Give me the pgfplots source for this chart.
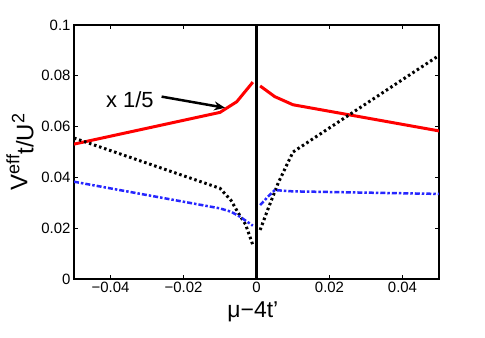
\documentclass[border=0pt]{standalone}
\usepackage{fontspec}
\setmainfont{Liberation Sans}
\usepackage{pgfplots}
\pgfplotsset{compat=1.18}
\usetikzlibrary{arrows.meta}

\begin{document}
\begin{tikzpicture}
\path[use as bounding box] (0,0) rectangle (485bp,338bp);
\begin{axis}[
  at={(74bp,59bp)}, anchor=south west,
  scale only axis, width=365bp, height=254bp,
  xmin=-0.05, xmax=0.05, ymin=0, ymax=0.1,
  xtick={-0.04,-0.02,0,0.02,0.04},
  xticklabels={−0.04,−0.02,0,0.02,0.04},
  ytick={0,0.02,0.04,0.06,0.08,0.1},
  yticklabels={0,0.02,0.04,0.06,0.08,0.1},
  scaled ticks=false,
  tick align=inside, major tick length=4bp,
  ticklabel style={font=\fontsize{15}{17}\selectfont},
  axis line style={line width=1.5bp},
  every tick/.style={black, line width=1bp},
  xlabel={μ−4t’},
  xlabel style={at={(rel axis cs:0.49,-0.15)}, anchor=base, font=\fontsize{23}{26}\selectfont},
  ylabel={V{\fontsize{18}{20}\selectfont\raisebox{8bp}{eff}}\raisebox{-6bp}{t/U{\fontsize{18}{20}\selectfont\raisebox{9bp}{2}}}},
  ylabel style={at={(rel axis cs:-0.148,0.5)}, anchor=center, font=\fontsize{24}{27}\selectfont},
]
  % red: scaled by 1/5
  \addplot[red, line width=3bp] coordinates {
    (-0.05,0.0531) (-0.01,0.0656) (-0.0054,0.0698) (-0.001,0.0775)
  };
  \addplot[red, line width=3bp] coordinates {
    (0.001,0.0760) (0.005,0.0718) (0.01,0.0686) (0.05,0.0583)
  };

  \addplot[black, line width=3bp, dash pattern=on 2.5bp off 2.8bp] coordinates {
    (-0.05,0.0555) (-0.01,0.0357) (-0.007,0.031) (-0.005,0.026) (-0.003,0.0215) (-0.001,0.0134)
  };
  \addplot[black, line width=3bp, dash pattern=on 2.5bp off 2.8bp] coordinates {
    (0.001,0.0193) (0.003,0.027) (0.006,0.038) (0.0085,0.0455) (0.01,0.0500) (0.05,0.088)
  };

  \addplot[blue!85!white, line width=2.5bp, dash pattern=on 5bp off 2bp on 2.5bp off 2bp] coordinates {
    (-0.05,0.0383) (-0.01,0.0278) (-0.007,0.0265) (-0.0045,0.0245) (-0.001,0.0210)
  };
  \addplot[blue!85!white, line width=2.5bp, dash pattern=on 5bp off 2bp on 2.5bp off 2bp] coordinates {
    (0.001,0.0291) (0.003,0.0322) (0.005,0.035) (0.01,0.0345) (0.05,0.0335)
  };

  \addplot[black, line width=3bp] coordinates {(0,0) (0,0.1)};

  \node[font=\fontsize{22}{25}\selectfont] at (axis cs:-0.0347,0.0705) {x 1/5};
  \draw[line width=2.5bp, -{Stealth[length=11bp,width=9bp]}] (axis cs:-0.026,0.0718) -- (axis cs:-0.0086,0.0674);
\end{axis}
\end{tikzpicture}
\end{document}
